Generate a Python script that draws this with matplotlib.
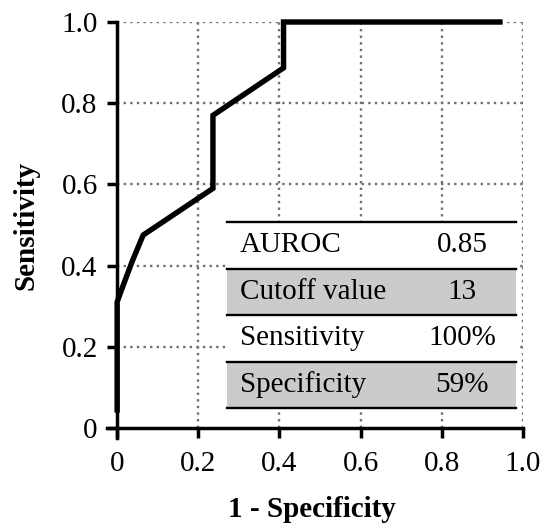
"""
ROC curve with summary table
"""
import matplotlib
matplotlib.use("Agg")
import matplotlib.pyplot as plt

# ROC curve points (1 - specificity, sensitivity)
fpr = [0.0, 0.0, 0.007, 0.037, 0.064, 0.236, 0.236, 0.41, 0.41, 0.943]
tpr = [0.044, 0.31, 0.33, 0.41, 0.475, 0.59, 0.77, 0.887, 1.0, 1.0]

# summary table
row_names = ["AUROC", "Cutoff value", "Sensitivity", "Specificity"]
row_values = ["0.85", "13", "100%", "59%"]
row_shaded = [False, True, False, True]

ticks = [0, 0.2, 0.4, 0.6, 0.8, 1.0]
tick_labels = ["0", "0.2", "0.4", "0.6", "0.8", "1.0"]

plt.rcParams['font.family'] = ['Liberation Serif', 'DejaVu Serif']

fig = plt.figure(figsize=(5.44, 5.29), dpi=100)
ax = fig.add_axes([0.1967, 0.172, 0.7647, 0.7864])

ax.set_xlim(-0.025, 1.0)
ax.set_ylim(-0.025, 1.0)

# dotted grid
grid_style = dict(color='#707070', linewidth=1.7, linestyle=(0, (1, 1.8)), zorder=1)
for t in ticks[1:]:
    ax.plot([t, t], [0, 1.0], **grid_style)
    ax.plot([0, 1.0], [t, t], **grid_style)

# table
tab_left, tab_right = 0.271, 0.983
tab_top, row_h = 0.507, 0.1145
for i, (name, val, shaded) in enumerate(zip(row_names, row_values, row_shaded)):
    top = tab_top - i * row_h
    bot = top - row_h
    ax.fill_between([tab_left, tab_right], bot, top,
                    color='#cbcbcb' if shaded else 'white', linewidth=0, zorder=2)
    ax.text(0.303, (top + bot) / 2, name, fontsize=21, ha='left', va='center', zorder=4)
    ax.text(0.85, (top + bot) / 2, val, fontsize=21, ha='center', va='center', zorder=4)
for i in range(len(row_names) + 1):
    y = tab_top - i * row_h
    ax.plot([tab_left, tab_right], [y, y], color='black', linewidth=1.7, zorder=3)

# ROC curve
ax.plot(fpr, tpr, color='black', linewidth=3.9, solid_joinstyle='miter',
        zorder=5, clip_on=False)

# axes styling
for side in ['top', 'right']:
    ax.spines[side].set_visible(False)
for side in ['left', 'bottom']:
    ax.spines[side].set_position(('data', 0))
    ax.spines[side].set_linewidth(2.5)
ax.spines['left'].set_bounds(-0.025, 1.0)
ax.spines['bottom'].set_bounds(-0.025, 1.0)

ax.set_xticks(ticks)
ax.set_xticklabels(tick_labels)
ax.set_yticks(ticks)
ax.set_yticklabels(tick_labels)
ax.tick_params(direction='out', length=7, width=2.5, labelsize=21)
ax.tick_params(axis='x', pad=10)
ax.tick_params(axis='y', pad=7)

ax.set_xlabel("1 - Specificity", fontsize=21, fontweight='bold')
ax.xaxis.set_label_coords(0.492, -0.14)
ax.set_ylabel("Sensitivity", fontsize=21, fontweight='bold', va='center')
ax.yaxis.set_label_coords(-0.195, 0.512)

fig.savefig("out.png", dpi=100)
